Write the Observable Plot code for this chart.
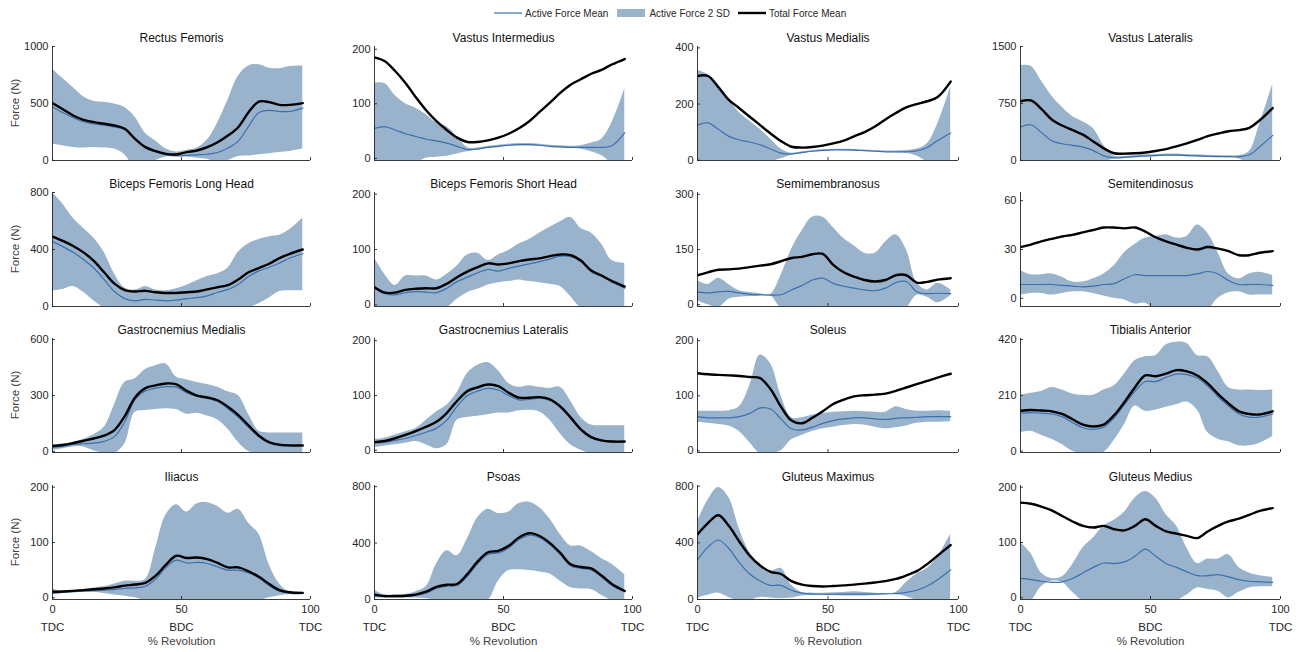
<!DOCTYPE html>
<html><head><meta charset="utf-8">
<script src="https://cdn.jsdelivr.net/npm/d3@7"></script>
<script src="https://cdn.jsdelivr.net/npm/@observablehq/plot@0.6"></script>
<style>
body{margin:0;background:#fff;font-family:"Liberation Sans",Arial,Helvetica,sans-serif;}
#root{position:relative;width:1309px;height:652px;overflow:hidden;}
.panel{position:absolute;}
.legend{position:absolute;top:6px;left:494px;display:flex;align-items:center;font-size:10px;color:#262626;white-space:nowrap;height:14px;}
.ylab{position:absolute;left:15px;font-size:11.5px;color:#404040;transform:translate(-50%,-50%) rotate(-90deg);white-space:nowrap;}
</style>
</head><body><div id="root"></div>
<script>
// % revolution sample positions
const pct = [0,4,8,12,16,20,24,28,32,36,40,44,48,52,56,60,64,68,72,76,80,84,88,92,97];
const xTicks = [0,50,100];
const xTickNames = ["TDC","BDC","TDC"];
const legendLabels = ["Active Force Mean","Active Force 2 SD","Total Force Mean"];

// Rectus Femoris
const RF_total  = [503,450,395,357,336,322,307,278,190,117,82,58,53,73,88,117,160,219,292,424,517,512,488,488,503];
const RF_active = [470,420,375,340,320,310,295,270,185,110,75,50,40,45,50,55,70,110,170,300,420,440,430,430,460];
const RF_upper  = [800,720,640,560,520,510,495,465,380,240,170,100,75,90,110,180,330,530,740,830,840,810,805,825,830];
const RF_lower  = [145,130,115,110,115,110,100,50,-60,-40,0,30,35,30,20,10,-20,0,35,40,50,60,70,80,100];
// Vastus Intermedius
const VI_total  = [185,178,160,138,112,88,68,52,38,30,30,33,38,45,55,68,85,102,120,135,145,155,162,172,182];
const VI_active = [55,58,52,45,40,35,32,28,22,16,17,20,22,24,25,25,24,22,21,20,20,20,20,23,47];
const VI_upper  = [138,137,115,100,92,80,65,58,40,20,19,22,24,26,27,27,26,24,23,22,23,28,35,65,127];
const VI_lower  = [-8,-8,-8,-8,-8,0,2,4,8,12,15,18,20,22,23,23,22,20,19,18,17,12,5,-8,-8];
// Vastus Medialis
const VM_total  = [300,300,260,215,185,155,125,95,68,48,45,47,52,60,70,85,100,120,145,168,188,200,210,225,280];
const VM_active = [125,133,110,85,72,65,55,40,25,22,27,32,35,37,37,36,34,32,30,30,30,33,45,70,97];
const VM_upper  = [320,305,270,215,170,140,110,75,40,25,30,35,37,39,39,38,36,35,33,33,35,40,59,129,261];
const VM_lower  = [-10,-10,-10,-10,-10,-10,-10,-5,5,18,24,29,32,34,34,33,31,29,28,27,25,15,-5,-10,-10];
// Vastus Lateralis
const VL_total  = [780,790,680,540,460,400,340,250,160,95,90,95,105,125,150,185,225,270,320,355,385,400,430,530,690];
const VL_active = [440,470,370,260,220,200,175,130,60,35,40,50,60,65,70,70,65,60,55,52,50,52,75,180,330];
const VL_upper  = [1250,1240,1050,850,700,580,510,420,200,60,55,65,75,80,85,85,80,75,70,65,62,65,120,480,1000];
const VL_lower  = [-50,-50,-50,-50,-50,-50,-50,-50,-20,20,25,35,45,50,55,55,50,45,40,38,35,20,-30,-50,-50];
// Biceps Femoris Long Head
const BFL_total  = [490,460,425,380,320,240,160,115,105,110,100,95,95,100,105,120,135,150,190,240,270,300,340,370,400];
const BFL_active = [455,420,380,330,270,190,105,55,40,50,45,40,45,55,62,75,100,120,155,210,250,275,305,340,370];
const BFL_upper  = [800,720,620,550,480,380,230,130,115,140,115,110,125,150,180,210,230,270,380,440,470,490,500,540,620];
const BFL_lower  = [110,120,140,100,40,-10,-30,-30,-30,-30,-30,-30,-30,-30,-30,-30,-30,-30,-30,-10,20,60,105,110,110];
// Biceps Femoris Short Head
const BFS_total  = [32,22,22,27,29,30,30,38,50,60,68,75,73,75,79,82,84,88,91,90,80,62,53,43,33];
const BFS_active = [30,20,18,22,24,23,22,30,42,50,58,64,61,66,70,74,78,83,88,87,78,60,52,42,30];
const BFS_upper  = [85,55,35,52,52,52,45,55,70,90,93,80,90,98,110,118,130,140,150,158,138,130,110,80,75];
const BFS_lower  = [-5,-5,-5,-5,-5,-5,-5,-5,10,22,28,36,40,42,45,42,40,37,33,15,-5,-5,-5,-5,-5];
// Semimembranosus
const SMB_total  = [80,88,95,96,98,102,106,110,118,127,130,137,138,108,88,76,67,63,67,80,80,60,62,68,72];
const SMB_active = [35,32,35,36,32,28,27,26,27,40,52,67,72,58,50,45,40,38,45,60,63,35,30,31,30];
const SMB_upper  = [65,55,72,55,38,33,30,28,80,150,200,238,238,210,180,160,140,140,170,190,150,60,40,58,40];
const SMB_lower  = [10,0,-8,15,20,22,23,24,-8,-8,-8,-8,-8,-8,-8,-8,-8,-8,-8,-8,-8,25,20,5,25];
// Semitendinosus
const STD_total  = [31.5,33,35,36.5,38,39,40.5,42,43.5,43.5,43,43.5,41,37.5,35,33,31,30,31.5,30.5,29,26.5,26.5,28,29];
const STD_active = [8.5,8.5,8.5,8.5,8,7.5,7,7.5,8.5,9,12,14.5,14,14,14,14,14,15,16.5,15,11,8.5,8.5,8.5,8];
const STD_upper  = [17,14.5,14.5,15,13,10,10,12,15,20,28,33,37,38,39,37,38,45,40,28,15,12,15,16,14];
const STD_lower  = [2,3,3,2,3,4,4,3,1.5,0,-1,-3.5,-3,-7,-7,-7,-7,-7,-7,0,3.5,4,2,2,2];
// Gastrocnemius Medialis
const GM_total  = [30,35,45,58,70,85,115,190,290,340,355,365,360,325,300,290,275,240,195,140,85,50,37,33,33];
const GM_active = [22,28,38,42,45,55,80,160,280,325,340,348,345,315,295,285,268,230,185,130,80,45,32,30,30];
const GM_upper  = [35,40,50,65,90,130,250,370,390,440,460,470,400,385,370,360,345,320,300,200,110,100,100,100,100];
const GM_lower  = [5,15,25,25,5,-10,-10,40,210,220,225,230,225,200,205,190,170,120,50,0,-10,-10,-10,-10,-10];
// Gastrocnemius Lateralis
const GL_total  = [15,17,22,28,35,43,52,68,90,108,115,120,117,105,96,96,97,93,80,60,38,24,18,16,16];
const GL_active = [13,15,18,22,27,33,40,55,80,100,108,113,110,100,92,93,95,91,78,58,36,22,17,15,15];
const GL_upper  = [20,22,28,34,40,55,70,82,105,140,155,160,145,122,115,118,115,113,115,90,60,46,45,45,45];
const GL_lower  = [5,8,10,13,16,10,3,10,55,60,62,65,68,68,72,73,70,55,30,10,0,-6,-6,-6,-6];
// Soleus
const SOL_total  = [141,139,138,137,136,134,132,112,80,55,50,60,72,85,93,99,101,102,104,109,115,121,127,133,140];
const SOL_active = [62,60,60,60,62,68,78,76,58,40,38,43,50,55,58,60,60,58,57,59,60,61,62,62,62];
const SOL_upper  = [72,72,72,73,80,118,174,158,100,60,60,65,68,70,71,72,71,70,70,80,75,72,72,73,72];
const SOL_lower  = [52,50,48,45,35,15,-5,-5,0,20,28,35,40,43,46,48,47,43,40,42,45,50,52,52,53];
// Tibialis Anterior
const TA_total  = [152,155,153,150,140,120,100,93,100,135,185,240,285,282,292,305,300,285,255,215,180,150,140,138,150];
const TA_active = [143,145,143,140,130,108,88,82,90,125,175,225,262,262,278,290,288,275,245,205,170,140,128,128,140];
const TA_upper  = [210,218,225,240,230,215,210,210,230,245,290,340,355,360,400,410,405,360,355,300,240,230,230,228,230];
const TA_lower  = [70,75,60,45,25,0,-10,-10,-5,40,100,170,150,155,165,175,185,155,70,45,35,20,20,30,55];
// Iliacus
const IL_total  = [11,11.5,12.5,14,15.5,17,19,22,24,27,40,60,76,72,73,70,63,55,55,48,38,25,14,10,9];
const IL_active = [9,10,11,12,13,14,15,17,18,21,34,55,68,63,64,62,56,50,50,45,36,22,12,8,8];
const IL_upper  = [16,12,13,15,18,20,25,30,30,33,90,150,168,155,170,172,165,153,160,135,115,60,25,10,10];
const IL_lower  = [5,8,9,10,10,8,5,3,0,-5,-5,-5,-5,-5,-5,-5,-5,-5,-5,-5,-5,0,4,6,6];
// Psoas
const PS_total  = [35,25,25,27,35,55,90,105,110,180,270,335,345,380,440,470,450,400,330,250,230,220,170,110,60];
const PS_active = [25,20,20,22,30,45,80,95,100,165,255,320,330,365,425,455,438,390,320,240,220,210,160,100,55];
const PS_upper  = [65,30,30,35,55,90,250,345,310,430,580,640,610,620,680,690,650,570,460,380,380,340,290,250,175];
const PS_lower  = [10,10,10,10,10,5,-5,-5,-5,-5,-5,-5,130,205,210,205,195,180,130,85,75,70,30,-5,-5];
// Gluteus Maximus
const GMX_total  = [460,540,595,520,410,310,240,195,180,130,105,95,92,95,100,105,112,120,130,145,170,200,250,310,385];
const GMX_active = [280,370,420,360,260,180,130,100,100,65,45,38,37,37,38,38,38,38,40,42,50,65,95,140,210];
const GMX_upper  = [550,700,790,720,500,330,240,200,220,100,50,45,45,47,50,55,50,45,42,50,120,180,220,300,460];
const GMX_lower  = [10,30,45,15,-10,-5,15,10,5,10,25,30,30,28,25,25,25,30,35,35,20,-5,-5,-5,-5];
// Gluteus Medius
const GMD_total  = [172,170,165,158,148,138,130,127,130,124,122,130,142,130,120,116,112,108,120,130,138,143,150,157,162];
const GMD_active = [35,33,30,28,29,35,45,55,63,62,65,75,88,75,62,55,47,40,40,42,38,33,30,29,28];
const GMD_upper  = [100,80,45,35,38,60,90,108,130,140,155,180,192,180,150,130,90,62,70,70,78,55,45,40,37];
const GMD_lower  = [-5,-5,20,30,28,10,-5,-5,-5,-5,-5,-5,-5,-5,-5,-5,5,18,15,12,0,10,18,20,20];

const muscleNames = ["Rectus Femoris","Vastus Intermedius","Vastus Medialis","Vastus Lateralis",
  "Biceps Femoris Long Head","Biceps Femoris Short Head","Semimembranosus","Semitendinosus",
  "Gastrocnemius Medialis","Gastrocnemius Lateralis","Soleus","Tibialis Anterior",
  "Iliacus","Psoas","Gluteus Maximus","Gluteus Medius"];
const yTickSets = [[0,500,1000],[0,100,200],[0,200,400],[0,750,1500],
  [0,400,800],[0,100,200],[0,150,300],[0,30,60],
  [0,300,600],[0,100,200],[0,100,200],[0,210,420],
  [0,100,200],[0,400,800],[0,400,800],[0,100,200]];
const yDomains = [[0,1000],[-4,205],[-1,405],[0,1500],
  [0,800],[-3,203],[-5,305],[-5,65],
  [-5,606],[-4,204],[-3,204],[-5,424],
  [-3,203],[0,808],[0,805],[-3,203]];
const seriesSets = [
  [RF_total,RF_active,RF_upper,RF_lower],[VI_total,VI_active,VI_upper,VI_lower],
  [VM_total,VM_active,VM_upper,VM_lower],[VL_total,VL_active,VL_upper,VL_lower],
  [BFL_total,BFL_active,BFL_upper,BFL_lower],[BFS_total,BFS_active,BFS_upper,BFS_lower],
  [SMB_total,SMB_active,SMB_upper,SMB_lower],[STD_total,STD_active,STD_upper,STD_lower],
  [GM_total,GM_active,GM_upper,GM_lower],[GL_total,GL_active,GL_upper,GL_lower],
  [SOL_total,SOL_active,SOL_upper,SOL_lower],[TA_total,TA_active,TA_upper,TA_lower],
  [IL_total,IL_active,IL_upper,IL_lower],[PS_total,PS_active,PS_upper,PS_lower],
  [GMX_total,GMX_active,GMX_upper,GMX_lower],[GMD_total,GMD_active,GMD_upper,GMD_lower]];

const BAND = "#99b3cd", BLUE = "#3b70ad", AX = "#262626", TXT = "#262626";
const colX = [52,374,697,1020], colW = [258,258,261,260];
const rowY = [46,192,338,485], PH = 114;
const FONT = '"Liberation Sans",Arial,Helvetica,sans-serif';

const root = document.getElementById("root");

// legend
const leg = document.createElement("div");
leg.className = "legend";
leg.innerHTML =
  `<svg width="28" height="10"><line x1="0" y1="5" x2="28" y2="5" stroke="${BLUE}" stroke-width="1.2"/></svg>` +
  `<span style="margin:0 9px 0 3px">${legendLabels[0]}</span>` +
  `<svg width="28" height="10"><rect x="0" y="1" width="28" height="8" fill="${BAND}"/></svg>` +
  `<span style="margin:0 8px 0 4px">${legendLabels[1]}</span>` +
  `<svg width="28" height="10"><line x1="0" y1="5" x2="28" y2="5" stroke="#000" stroke-width="2.4"/></svg>` +
  `<span style="margin:0 0 0 3px">${legendLabels[2]}</span>`;
root.appendChild(leg);

muscleNames.forEach((name, i) => {
  const row = Math.floor(i / 4), col = i % 4;
  const bottom = row === 3;
  const [tot, act, up, lo] = seriesSets[i];
  const rows = pct.map((x, j) => ({x, tot: tot[j], act: act[j], hi: up[j], lo: lo[j]}));
  const pw = colW[col];
  const ml = 44, mr = 10, mt = 26, mb = bottom ? 54 : 8;
  const dom = yDomains[i];
  const svg = Plot.plot({
    width: ml + pw + mr, height: mt + PH + mb,
    marginLeft: ml, marginRight: mr, marginTop: mt, marginBottom: mb,
    style: {fontFamily: FONT, fontSize: "11px", color: TXT, background: "transparent", overflow: "visible"},
    x: {domain: [0, 100], axis: bottom ? "bottom" : null, ticks: xTicks, tickSize: 0, tickPadding: 6, tickFormat: d => String(d), label: null},
    y: {domain: dom, ticks: yTickSets[i], tickSize: 0, tickPadding: 4, tickFormat: d => String(d), label: null},
    marks: [
      Plot.areaY(rows, {x: "x", y1: "lo", y2: "hi", fill: BAND, curve: "catmull-rom", clip: true}),
      Plot.lineY(rows, {x: "x", y: "act", stroke: BLUE, strokeWidth: 1.2, curve: "catmull-rom", clip: true}),
      Plot.lineY(rows, {x: "x", y: "tot", stroke: "#000", strokeWidth: 2.4, curve: "catmull-rom", clip: true}),
      Plot.ruleY([dom[0]], {stroke: AX, strokeWidth: 0.9}),
      Plot.ruleX([0], {stroke: AX, strokeWidth: 0.9}),
      Plot.tickX(xTicks, {x: d => d, insetTop: PH - 3, stroke: AX, strokeWidth: 0.9}),
      Plot.tickY(yTickSets[i], {y: d => d, insetRight: pw - 3, stroke: AX, strokeWidth: 0.9}),
      Plot.text([name], {text: d => d, frameAnchor: "top", dy: -5, lineAnchor: "bottom", fontSize: 12, fill: "#111"}),
      ...(bottom ? [
        Plot.text(xTicks, {x: d => d, text: (d, k) => xTickNames[k], frameAnchor: "bottom", dy: 28, lineAnchor: "middle", fontSize: 11.5, fill: TXT}),
        Plot.text(["% Revolution"], {x: [50], text: d => d, frameAnchor: "bottom", dy: 42, lineAnchor: "middle", fontSize: 11.5, fill: "#404040"})
      ] : [])
    ]
  });
  svg.classList.add("panel");
  svg.style.left = (colX[col] - ml) + "px";
  svg.style.top = (rowY[row] - mt) + "px";
  svg.style.position = "absolute";
  root.appendChild(svg);

  if (col === 0) {
    const yl = document.createElement("div");
    yl.className = "ylab";
    yl.textContent = "Force (N)";
    yl.style.top = (rowY[row] + PH / 2) + "px";
    root.appendChild(yl);
  }
});
</script>
</body></html>
